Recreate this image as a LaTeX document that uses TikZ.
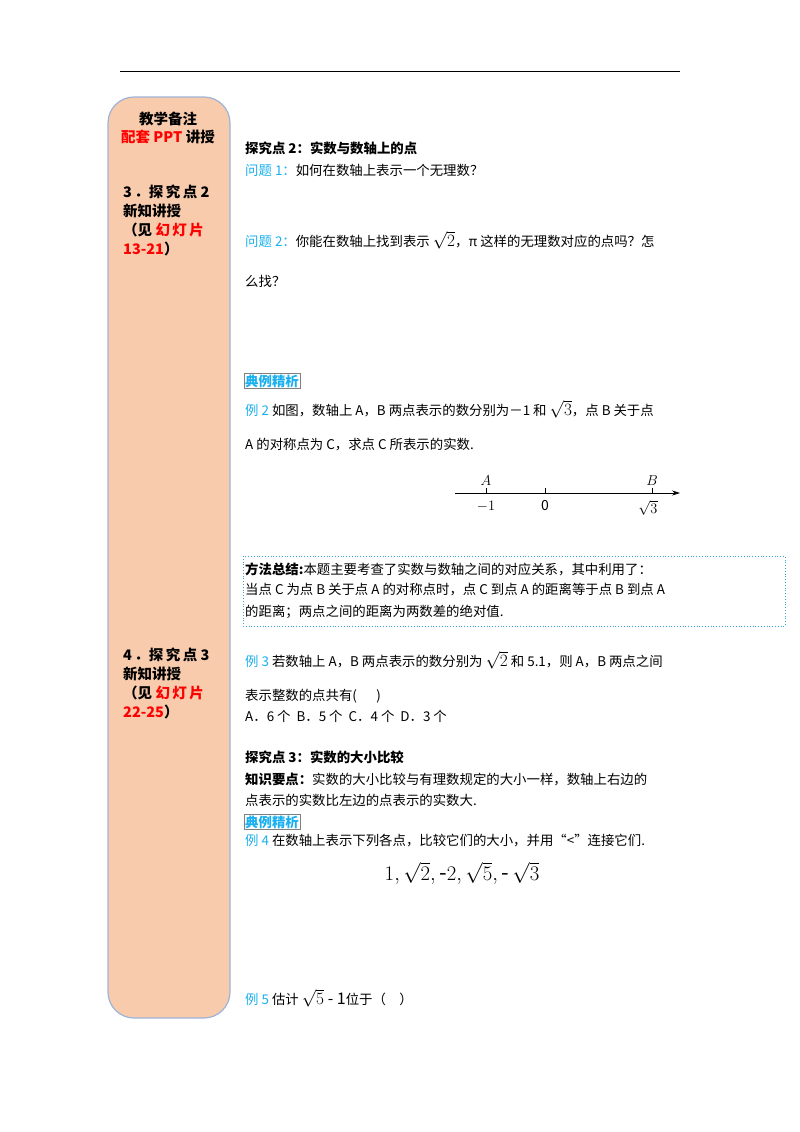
\documentclass[tikz,border=0pt]{standalone}
\usepackage{fontspec}
\setmainfont{Noto Sans CJK SC}
\usetikzlibrary{arrows.meta}
\definecolor{peach}{HTML}{F8CBAD}
\definecolor{sky}{HTML}{1AAFEF}
\definecolor{edge}{HTML}{9DB3D6}
\tikzset{
 txt/.style={anchor=west,inner sep=0pt,font=\fontsize{13.4}{15}\selectfont},
 side/.style={anchor=west,inner sep=0pt,font=\fontsize{14.5}{16}\selectfont\bfseries},
 ml/.style={anchor=base,inner sep=0pt,font=\fontsize{14}{15}\selectfont\rmfamily},
}
\newcommand{\bl}[1]{\textcolor{sky}{#1}}
\newcommand{\rd}[1]{\textcolor{red}{#1}}
\begin{document}
\begin{tikzpicture}[x=1pt,y=-1pt]
\useasboundingbox (0,0) rectangle (800,1132);
\draw[line width=1pt] (120,72) -- (680,72);
\draw[edge,line width=1.2pt,fill=peach,rounded corners=26] (108,97) rectangle (230,1018);
% sidebar
\node[side,anchor=center] (s1) at (168,119) {教学备注};
\node[side,anchor=center] (s2) at (168,137) {\rd{配套 PPT} 讲授};
\node[side] (s3) at (123,192) {3\,．探\,究\,点 2};
\node[side] (s4) at (123,211) {新知讲授};
\node[side] (s5) at (123,230) {（见 \rd{幻\,灯\,片}};
\node[side] (s6) at (123,249) {\rd{13-21}）};
\node[side] (t3) at (123,655) {4\,．探\,究\,点 3};
\node[side] (t4) at (123,674) {新知讲授};
\node[side] (t5) at (123,693) {（见 \rd{幻\,灯\,片}};
\node[side] (t6) at (123,712) {\rd{22-25}）};
% main
\node[txt,font=\fontsize{13.4}{15}\selectfont\bfseries] (h1) at (245,148) {探究点 2：实数与数轴上的点};
\node[txt] (q1) at (245,170) {\bl{问题 1：}如何在数轴上表示一个无理数？};
\node[txt] (q2) at (245,240) {\bl{问题 2：}你能在数轴上找到表示 {\rmfamily\fontsize{16}{16}\selectfont$\sqrt{2}$}，π 这样的无理数对应的点吗？怎};
\node[txt] (q2b) at (245,281) {么找？};
\node[txt,draw=gray,inner sep=1pt,font=\fontsize{13.4}{15}\selectfont\bfseries] (d1) at (244,381) {\bl{典例精析}};
\node[txt] (e2) at (245,409) {\bl{例 2} 如图，数轴上 A，B 两点表示的数分别为－1 和 {\rmfamily\fontsize{16}{16}\selectfont$\sqrt{3}$}，点 B 关于点};
\node[txt] (e2b) at (245,445) {A 的对称点为 C，求点 C 所表示的实数.};
% number line
\coordinate (l0) at (455,493);
\coordinate (l1) at (680,493);
\draw[-{Stealth[length=8pt,width=5pt]},line width=0.6pt] (l0) -- (l1);
\foreach \x in {486,545,652} \draw[line width=0.5pt] (\x,493) -- (\x,488);
\node[ml] (la) at (486,485) {$A$};
\node[ml] (lb) at (652,485) {$B$};
\node[ml] (n1) at (486,510) {$-1$};
\node[ml] (n2) at (545,510) {0};
\node[ml] (n3) at (648,513) {$\sqrt{3}$};
% method box
\draw[sky!70!gray,dotted,line width=0.8pt] (243,556) rectangle (785,626);
\node[txt] (m1) at (245,569) {\textbf{方法总结:}本题主要考查了实数与数轴之间的对应关系，其中利用了：};
\node[txt] (m2) at (245,590) {当点 C 为点 B 关于点 A 的对称点时，点 C 到点 A 的距离等于点 B 到点 A};
\node[txt] (m3) at (245,612) {的距离；两点之间的距离为两数差的绝对值.};
\node[txt] (e3) at (245,660) {\bl{例 3} 若数轴上 A，B 两点表示的数分别为 {\rmfamily\fontsize{16}{16}\selectfont$\sqrt{2}$} 和 5.1，则 A，B 两点之间};
\node[txt] (e3b) at (245,696) {表示整数的点共有(\quad\ \ )};
\node[txt] (e3c) at (245,716) {A．6 个\ \ B．5 个\ \ C．4 个\ \ D．3 个};
\node[txt,font=\fontsize{13.4}{15}\selectfont\bfseries] (h3) at (245,757) {探究点 3：实数的大小比较};
\node[txt] (k1) at (245,779) {\textbf{知识要点：}实数的大小比较与有理数规定的大小一样，数轴上右边的};
\node[txt] (k2) at (245,800) {点表示的实数比左边的点表示的实数大.};
\node[txt,draw=gray,inner sep=1pt,font=\fontsize{13.4}{15}\selectfont\bfseries] (d2) at (244,822) {\bl{典例精析}};
\node[txt] (e4) at (245,841) {\bl{例 4} 在数轴上表示下列各点，比较它们的大小，并用“<”连接它们.};
\node[inner sep=0pt,font=\fontsize{22}{24}\selectfont\rmfamily] (f4) at (462,873) {$1{,}\,\sqrt{2}{,}\,\mbox{-}2{,}\,\sqrt{5}{,}\,\mbox{-}\,\sqrt{3}$};
\node[txt] (e5) at (245,998) {\bl{例 5} 估计 {\rmfamily\fontsize{16}{16}\selectfont$\sqrt{5}$ - 1}位于（\quad）};
\end{tikzpicture}
\end{document}
